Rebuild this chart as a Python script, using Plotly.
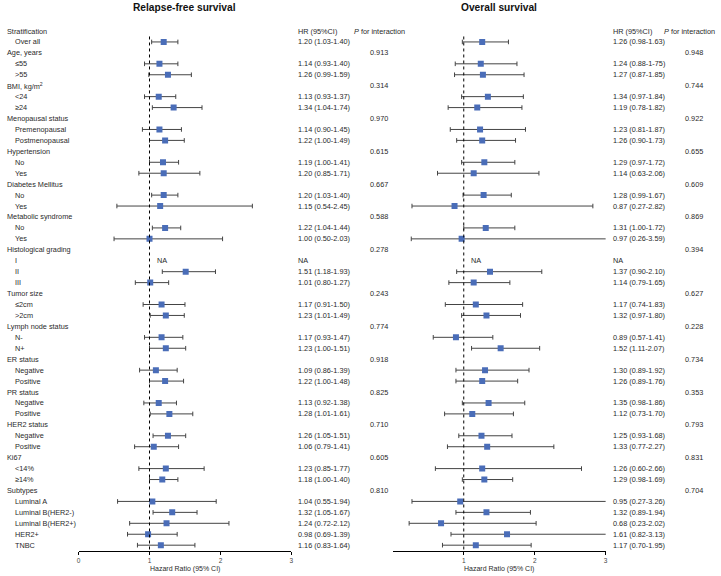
import plotly.graph_objects as go

# ---------------- data ----------------
row_labels = ["Stratification", "Over all", "Age, years", "≤55", ">55",
              "BMI, kg/m<sup>2</sup>", "<24", "≥24",
              "Menopausal status", "Premenopausal", "Postmenopausal",
              "Hypertension", "No", "Yes", "Diabetes Mellitus", "No", "Yes",
              "Metabolic syndrome", "No", "Yes",
              "Histological grading", "I", "II", "III",
              "Tumor size", "≤2cm", ">2cm",
              "Lymph node status", "N-", "N+",
              "ER status", "Negative", "Positive",
              "PR status", "Negative", "Positive",
              "HER2 status", "Negative", "Positive",
              "Ki67", "<14%", "≥14%",
              "Subtypes", "Luminal A", "Luminal B(HER2-)", "Luminal B(HER2+)", "HER2+", "TNBC"]
header_rows = [1, 3, 6, 9, 12, 15, 18, 21, 25, 28, 31, 34, 37, 40, 43]

# subgroup rows (1-based row index), None = NA
sub_rows = [2, 4, 5, 7, 8, 10, 11, 13, 14, 16, 17, 19, 20, 22, 23, 24, 26, 27,
            29, 30, 32, 33, 35, 36, 38, 39, 41, 42, 44, 45, 46, 47, 48]

rfs_hr = [1.20, 1.14, 1.26, 1.13, 1.34, 1.14, 1.22, 1.19, 1.20, 1.20, 1.15, 1.22, 1.00,
          None, 1.51, 1.01, 1.17, 1.23, 1.17, 1.23, 1.09, 1.22, 1.13, 1.28, 1.26, 1.06,
          1.23, 1.18, 1.04, 1.32, 1.24, 0.98, 1.16]
rfs_lo = [1.03, 0.93, 0.99, 0.93, 1.04, 0.90, 1.00, 1.00, 0.85, 1.03, 0.54, 1.04, 0.50,
          None, 1.18, 0.80, 0.91, 1.01, 0.93, 1.00, 0.86, 1.00, 0.92, 1.01, 1.05, 0.79,
          0.85, 1.00, 0.55, 1.05, 0.72, 0.69, 0.83]
rfs_hi = [1.40, 1.40, 1.59, 1.37, 1.74, 1.45, 1.49, 1.41, 1.71, 1.40, 2.45, 1.44, 2.03,
          None, 1.93, 1.27, 1.50, 1.49, 1.47, 1.51, 1.39, 1.48, 1.38, 1.61, 1.51, 1.41,
          1.77, 1.40, 1.94, 1.67, 2.12, 1.39, 1.64]
rfs_text = ["1.20 (1.03-1.40)", "1.14 (0.93-1.40)", "1.26 (0.99-1.59)", "1.13 (0.93-1.37)",
            "1.34 (1.04-1.74)", "1.14 (0.90-1.45)", "1.22 (1.00-1.49)", "1.19 (1.00-1.41)",
            "1.20 (0.85-1.71)", "1.20 (1.03-1.40)", "1.15 (0.54-2.45)", "1.22 (1.04-1.44)",
            "1.00 (0.50-2.03)", "NA", "1.51 (1.18-1.93)", "1.01 (0.80-1.27)",
            "1.17 (0.91-1.50)", "1.23 (1.01-1.49)", "1.17 (0.93-1.47)", "1.23 (1.00-1.51)",
            "1.09 (0.86-1.39)", "1.22 (1.00-1.48)", "1.13 (0.92-1.38)", "1.28 (1.01-1.61)",
            "1.26 (1.05-1.51)", "1.06 (0.79-1.41)", "1.23 (0.85-1.77)", "1.18 (1.00-1.40)",
            "1.04 (0.55-1.94)", "1.32 (1.05-1.67)", "1.24 (0.72-2.12)", "0.98 (0.69-1.39)",
            "1.16 (0.83-1.64)"]
rfs_p = ["0.913", "0.314", "0.970", "0.615", "0.667", "0.588", "0.278", "0.243",
         "0.774", "0.918", "0.825", "0.710", "0.605", "0.810"]

os_hr = [1.26, 1.24, 1.27, 1.34, 1.19, 1.23, 1.26, 1.29, 1.14, 1.28, 0.87, 1.31, 0.97,
         None, 1.37, 1.14, 1.17, 1.32, 0.89, 1.52, 1.30, 1.26, 1.35, 1.12, 1.25, 1.33,
         1.26, 1.29, 0.95, 1.32, 0.68, 1.61, 1.17]
os_lo = [0.98, 0.88, 0.87, 0.97, 0.78, 0.81, 0.90, 0.97, 0.63, 0.99, 0.27, 1.00, 0.26,
         None, 0.90, 0.79, 0.74, 0.97, 0.57, 1.11, 0.89, 0.89, 0.98, 0.73, 0.93, 0.77,
         0.60, 0.98, 0.27, 0.89, 0.23, 0.82, 0.70]
os_hi = [1.63, 1.75, 1.85, 1.84, 1.82, 1.87, 1.73, 1.72, 2.06, 1.67, 2.82, 1.72, 3.59,
         None, 2.10, 1.65, 1.83, 1.80, 1.41, 2.07, 1.92, 1.76, 1.86, 1.70, 1.68, 2.27,
         2.66, 1.69, 3.26, 1.94, 2.02, 3.13, 1.95]
os_text = ["1.26 (0.98-1.63)", "1.24 (0.88-1-75)", "1.27 (0.87-1.85)", "1.34 (0.97-1.84)",
           "1.19 (0.78-1.82)", "1.23 (0.81-1.87)", "1.26 (0.90-1.73)", "1.29 (0.97-1.72)",
           "1.14 (0.63-2.06)", "1.28 (0.99-1.67)", "0.87 (0.27-2.82)", "1.31 (1.00-1.72)",
           "0.97 (0.26-3.59)", "NA", "1.37 (0.90-2.10)", "1.14 (0.79-1.65)",
           "1.17 (0.74-1.83)", "1.32 (0.97-1.80)", "0.89 (0.57-1.41)", "1.52 (1.11-2.07)",
           "1.30 (0.89-1.92)", "1.26 (0.89-1.76)", "1.35 (0.98-1.86)", "1.12 (0.73-1.70)",
           "1.25 (0.93-1.68)", "1.33 (0.77-2.27)", "1.26 (0.60-2.66)", "1.29 (0.98-1.69)",
           "0.95 (0.27-3.26)", "1.32 (0.89-1.94)", "0.68 (0.23-2.02)", "1.61 (0.82-3.13)",
           "1.17 (0.70-1.95)"]
os_p = ["0.948", "0.744", "0.922", "0.655", "0.609", "0.869", "0.394", "0.627",
        "0.228", "0.734", "0.353", "0.793", "0.831", "0.704"]

p_rows = header_rows[1:]
rfs_ticks = [0, 1, 2, 3]
os_ticks = [1, 2, 3]

# ---------------- layout helpers ----------------
W, H = 721, 576
FONT = "Liberation Sans, Arial, sans-serif"
TXT = "#2a2a2a"
FS = 7.3


def px(x):
    return x / W


def py(y):
    return 1 - y / H


ROW0, STEP = 31.0, 10.94
AXIS_Y = 551.0
y_bottom = 1 + (AXIS_Y - ROW0) / STEP
y_top = 1 - ROW0 / STEP

fig = go.Figure()


def add_panel(hr, lo, hi, xa):
    xs, ys, ep, em = [], [], [], []
    for r, h, l, u in zip(sub_rows, hr, lo, hi):
        if h is None:
            continue
        xs.append(h)
        ys.append(r)
        ep.append(u - h)
        em.append(h - l)
    fig.add_trace(go.Scatter(
        x=xs, y=ys, mode="markers", xaxis=xa, yaxis="y",
        marker=dict(symbol="square", size=6, color="#4a6db8"),
        error_x=dict(type="data", symmetric=False, array=ep, arrayminus=em,
                     color="#444444", thickness=1, width=2.3),
        showlegend=False, hoverinfo="skip"))


add_panel(rfs_hr, rfs_lo, rfs_hi, "x")
add_panel(os_hr, os_lo, os_hi, "x2")

axis_common = dict(range=[0, 3], showgrid=False, zeroline=False, showline=True,
                   linecolor="black", linewidth=1.3, ticks="outside", ticklen=3,
                   tickwidth=1, tickcolor="black",
                   tickfont=dict(family=FONT, size=6.5, color="#444"),
                   anchor="y", fixedrange=True)

fig.update_layout(
    width=W, height=H, margin=dict(l=0, r=0, t=0, b=0),
    plot_bgcolor="white", paper_bgcolor="white",
    xaxis=dict(domain=[px(77), px(291)], tickvals=rfs_ticks, **axis_common),
    xaxis2=dict(domain=[px(393), px(607)], tickvals=os_ticks, **axis_common),
    yaxis=dict(domain=[py(AXIS_Y), 1], range=[y_bottom, y_top], visible=False,
               fixedrange=True),
    showlegend=False,
)

shapes = []
for xr in ["x", "x2"]:
    shapes.append(dict(type="line", xref=xr, yref="y", x0=1, x1=1, y0=1.5, y1=y_bottom,
                       line=dict(color="black", width=1, dash="dot")))
fig.update_layout(shapes=shapes)

ann = []


def text(x, y, s, yref="y", size=FS, xanchor="left", xref="paper"):
    ann.append(dict(x=x, y=y, xref=xref, yref=yref, text=s, showarrow=False,
                    xanchor=xanchor, yanchor="middle",
                    font=dict(family=FONT, size=size, color=TXT)))


# row labels
for i, lab in enumerate(row_labels, start=1):
    xpos = 3 if i in header_rows else 11
    text(px(xpos), i, lab)

# HR columns
for r, s in zip(sub_rows, rfs_text):
    text(px(296), r, s)
for r, s in zip(sub_rows, os_text):
    text(px(612), r, s)

# P columns
for r, s in zip(p_rows, rfs_p):
    text(px(368), r, s)
for r, s in zip(p_rows, os_p):
    text(px(685), r, s)

# headers
text(px(296), 1, "HR (95%CI)")
text(px(352), 1, "<i>P</i> for interaction")
text(px(612), 1, "HR (95%CI)")
text(px(664), 1, "<i>P</i> for interaction")

# NA inside plots
for xr, hr in [("x", rfs_hr), ("x2", os_hr)]:
    for r, h in zip(sub_rows, hr):
        if h is None:
            text(1.08, r, "NA", xref=xr)

# titles
ann.append(dict(x=px(184), y=py(8), xref="paper", yref="paper", showarrow=False,
                text="<b>Relapse-free survival</b>", xanchor="center", yanchor="middle",
                font=dict(family=FONT, size=10.2, color="#111")))
ann.append(dict(x=px(500), y=py(8), xref="paper", yref="paper", showarrow=False,
                text="<b>Overall survival</b>", xanchor="center", yanchor="middle",
                font=dict(family=FONT, size=10.2, color="#111")))
# axis titles
for cx in [184, 500]:
    ann.append(dict(x=px(cx), y=py(569), xref="paper", yref="paper", showarrow=False,
                    text="Hazard Ratio (95% CI)", xanchor="center", yanchor="middle",
                    font=dict(family=FONT, size=7, color=TXT)))

fig.update_layout(annotations=ann)
fig.write_html("out.html", config={"displayModeBar": False},
               post_script="document.body.style.margin='0';document.body.style.padding='0';")
